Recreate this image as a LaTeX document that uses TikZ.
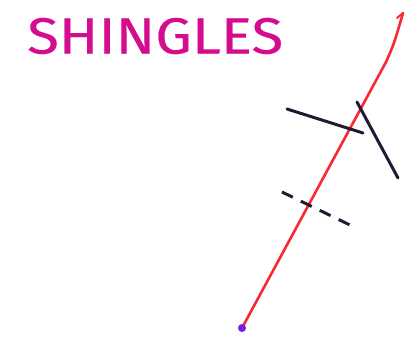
\documentclass[tikz,border=0pt]{standalone}
\usepackage{fontspec}
\setmainfont{Fira Sans}
\usepackage{tikz}
\definecolor{titlemag}{RGB}{212,12,142}
\definecolor{rayred}{RGB}{250,40,50}
\definecolor{dotpurple}{RGB}{118,30,220}
\definecolor{inkblack}{RGB}{35,25,50}

\begin{document}
\begin{tikzpicture}[x=1pt, y=-1pt,
  ray/.style={rayred, line width=2.6pt, line cap=round},
  shingle/.style={inkblack, line width=3pt, line cap=round},
  hidden/.style={inkblack, line width=3pt, dash pattern=on 12pt off 9pt}]
  \useasboundingbox (0,0) rectangle (410,340);
  \node[anchor=west, text=titlemag, font=\fontsize{51}{51}\selectfont\addfontfeature{FakeBold=0.3}, inner sep=0pt, xscale=1.14] (title) at (27,36) {SHINGLES};
  \coordinate (base) at (242,328);
  \coordinate (bend) at (386,62);
  \coordinate (tip) at (403,13);
  \draw[ray] (base) -- (bend) .. controls (394,44) .. (tip);
  \draw[rayred, line width=2pt, line cap=round] (tip) -- (397,18);
  \coordinate (a1) at (287,109);
  \coordinate (a2) at (363,133);
  \coordinate (b1) at (357,102);
  \coordinate (b2) at (398,178);
  \draw[shingle] (a1) -- (a2);
  \draw[shingle] (b1) -- (b2);
  \coordinate (c1) at (282,192);
  \coordinate (c2) at (352,226);
  \draw[hidden] (c1) -- (c2);
  \node[circle, fill=dotpurple, inner sep=0pt, minimum size=8pt] (dot) at (base) {};
\end{tikzpicture}
\end{document}
